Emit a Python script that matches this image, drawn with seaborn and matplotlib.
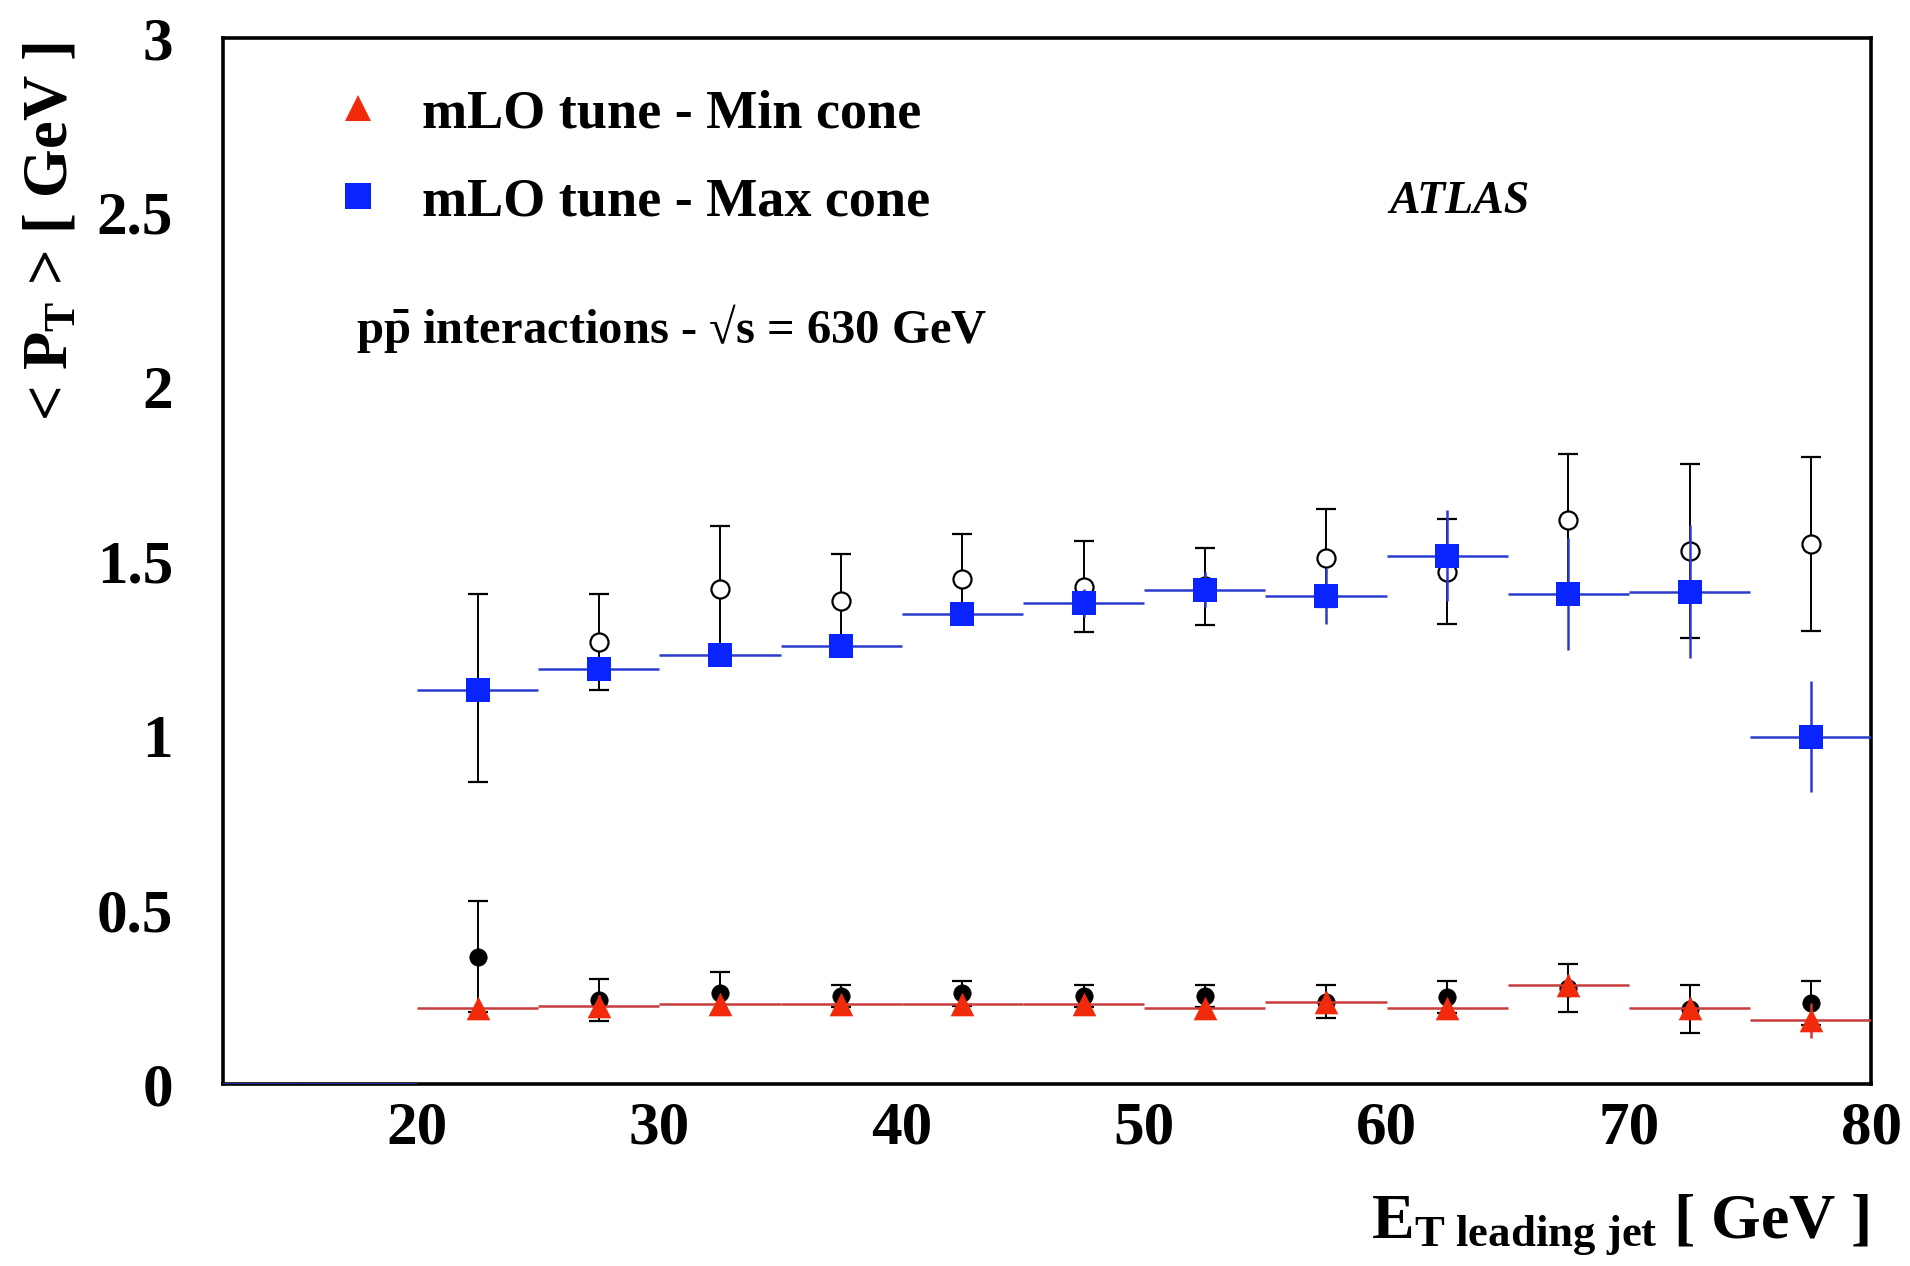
import matplotlib
matplotlib.use("Agg")
import matplotlib.pyplot as plt
import numpy as np
import seaborn as sns
from matplotlib.ticker import MultipleLocator
from matplotlib.lines import Line2D

# ---------------- data ----------------
bin_centers = [22.5, 27.5, 32.5, 37.5, 42.5, 47.5, 52.5, 57.5, 62.5, 67.5, 72.5, 77.5]
bin_half_width = 2.5
empty_bin_centers = [12.5, 17.5]
empty_bin_values = [0.0, 0.0]

# mLO tune - Max cone (blue squares)
max_cone_mc = [1.13, 1.19, 1.23, 1.255, 1.347, 1.38, 1.418, 1.40, 1.515, 1.405, 1.412, 0.996]
max_cone_mc_err = [0.03, 0.03, 0.03, 0.03, 0.03, 0.04, 0.05, 0.08, 0.13, 0.16, 0.19, 0.16]
# data - Max cone (open circles)
max_cone_data = [1.136, 1.268, 1.419, 1.386, 1.448, 1.426, 1.427, 1.509, 1.469, 1.617, 1.529, 1.549]
max_cone_data_err = [0.27, 0.137, 0.18, 0.134, 0.13, 0.13, 0.111, 0.14, 0.15, 0.19, 0.25, 0.25]

# mLO tune - Min cone (red triangles)
min_cone_mc = [0.218, 0.225, 0.230, 0.230, 0.230, 0.230, 0.218, 0.236, 0.218, 0.284, 0.218, 0.182]
min_cone_mc_err = [0.02, 0.03, 0.02, 0.02, 0.02, 0.02, 0.02, 0.03, 0.02, 0.03, 0.03, 0.05]
# data - Min cone (filled circles)
min_cone_data = [0.365, 0.241, 0.260, 0.252, 0.260, 0.252, 0.252, 0.236, 0.250, 0.275, 0.215, 0.232]
min_cone_data_err = [0.16, 0.06, 0.06, 0.032, 0.036, 0.032, 0.032, 0.048, 0.046, 0.069, 0.069, 0.064]

legend_labels = ["mLO tune - Min cone", "mLO tune - Max cone"]
x_ticks = [20, 30, 40, 50, 60, 70, 80]
y_ticks = [0, 0.5, 1, 1.5, 2, 2.5, 3]
y_tick_labels = ["0", "0.5", "1", "1.5", "2", "2.5", "3"]

# ---------------- style ----------------
sns.set_theme(style="white")
plt.rcParams.update({
    "font.family": ["Liberation Serif", "DejaVu Serif"],
    "font.weight": "bold",
    "text.color": "black",
    "axes.labelcolor": "black",
    "xtick.color": "black",
    "ytick.color": "black",
    "mathtext.fontset": "custom",
    "mathtext.rm": "Liberation Serif:bold",
    "mathtext.bf": "Liberation Serif:bold",
    "mathtext.it": "Liberation Serif:bold:italic",
})

BLUE = "#0a24ff"
BLUE_LINE = "#2a3ccf"
RED = "#f02a0a"
RED_LINE = "#c83c3c"

fig = plt.figure(figsize=(19.10, 12.66), dpi=100)
ax = fig.add_axes([0.1168, 0.1438, 0.8630, 0.8262])

x = np.array(bin_centers)

# data error bars (black, with caps)
ax.errorbar(x, max_cone_data, yerr=max_cone_data_err, fmt="none", ecolor="black",
            elinewidth=1.4, capsize=7, capthick=1.6, zorder=2)
ax.errorbar(x, min_cone_data, yerr=min_cone_data_err, fmt="none", ecolor="black",
            elinewidth=1.4, capsize=7, capthick=1.6, zorder=2)

# MC error bars (bin width + stat)
ax.errorbar(x, max_cone_mc, xerr=bin_half_width, yerr=max_cone_mc_err, fmt="none",
            ecolor=BLUE_LINE, elinewidth=1.8, capsize=0, zorder=3)
ax.errorbar(x, min_cone_mc, xerr=bin_half_width, yerr=min_cone_mc_err, fmt="none",
            ecolor=RED_LINE, elinewidth=1.8, capsize=0, zorder=3)
eb = np.array(empty_bin_centers)
ax.hlines(empty_bin_values, eb - bin_half_width, eb + bin_half_width,
          color=BLUE_LINE, linewidth=1.8, zorder=5)

# markers
sns.scatterplot(x=bin_centers, y=max_cone_data, marker="o", s=13**2, color="white",
                edgecolor="black", linewidth=1.6, ax=ax, zorder=2.5, legend=False)
sns.scatterplot(x=bin_centers, y=min_cone_data, marker="o", s=12.5**2, color="black",
                edgecolor="black", linewidth=0.5, ax=ax, zorder=2.5, legend=False)
sns.scatterplot(x=bin_centers, y=max_cone_mc, marker="s", s=17**2, color=BLUE,
                edgecolor=BLUE, linewidth=0, ax=ax, zorder=4, legend=False)
sns.scatterplot(x=bin_centers, y=min_cone_mc, marker="^", s=17**2, color=RED,
                edgecolor=RED, linewidth=0, ax=ax, zorder=4, legend=False)

# axes
ax.set_xlim(12, 80)
ax.set_ylim(0, 3)
ax.set_xticks(x_ticks)
ax.set_yticks(y_ticks)
ax.set_yticklabels(y_tick_labels)
ax.xaxis.set_minor_locator(MultipleLocator(2))
ax.yaxis.set_minor_locator(MultipleLocator(0.1))
ax.tick_params(axis="both", which="both", direction="in", top=False, right=False,
               colors="black", labelcolor="black", labelsize=44, width=1.4)
ax.tick_params(axis="x", which="major", length=23, pad=12)
ax.tick_params(axis="x", which="minor", length=10)
ax.tick_params(axis="y", which="major", length=26, pad=36)
ax.tick_params(axis="y", which="minor", length=14)
for sp in ax.spines.values():
    sp.set_linewidth(2.6)
    sp.set_color("black")
    sp.set_visible(True)

ax.set_xlabel("E$_{\\mathrm{T\\ leading\\ jet}}$ [ GeV ]", fontsize=46, fontweight="bold",
              color="black")
ax.xaxis.set_label_coords(0.9988, -0.1463)
ax.xaxis.label.set_horizontalalignment("right")
ax.xaxis.label.set_verticalalignment("baseline")

ax.set_ylabel("< P$_{\\mathrm{T}}$ > [ GeV ]", fontsize=45, fontweight="bold", color="black")
ax.yaxis.set_label_coords(-0.0946, 0.9962)
ax.yaxis.label.set_horizontalalignment("right")
ax.yaxis.label.set_verticalalignment("baseline")

# legend
handles = [
    Line2D([], [], linestyle="none", marker="^", markersize=19, color=RED, markeredgewidth=0),
    Line2D([], [], linestyle="none", marker="s", markersize=19, color=BLUE, markeredgewidth=0),
]
leg = ax.legend(handles, legend_labels, loc="upper left", bbox_to_anchor=(0.0652, 0.951),
                frameon=False, handlelength=1.0, handletextpad=0.68, labelspacing=0.7,
                borderpad=0, borderaxespad=0,
                prop={"family": "Liberation Serif", "weight": "bold", "size": 39})
for t in leg.get_texts():
    t.set_color("black")

ax.text(0.0807, 0.7084, "p$\\bar{\\mathrm{p}}$ interactions - \u221as = 630 GeV",
        transform=ax.transAxes, fontsize=35, fontweight="bold", va="baseline", ha="left",
        color="black")
ax.text(0.750, 0.8327, "ATLAS", transform=ax.transAxes, fontsize=33, fontweight="bold",
        fontstyle="italic", va="baseline", ha="center", color="black")

fig.savefig("out.png", dpi=100, facecolor="white")
